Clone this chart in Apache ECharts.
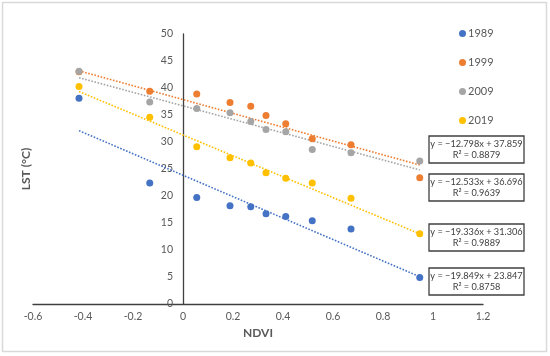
<!DOCTYPE html>
<html>
<head>
<meta charset="utf-8">
<script src="https://cdn.jsdelivr.net/npm/echarts@6/dist/echarts.min.js"></script>
<style>
html,body{margin:0;padding:0;background:#fff;}
#chart{width:550px;height:356px;}
</style>
</head>
<body>
<div id="chart"></div>
<script>
// ---- data ----
const ndvi = [-0.416, -0.133, 0.055, 0.188, 0.271, 0.332, 0.411, 0.517, 0.672, 0.947];
const years = ['1989', '1999', '2009', '2019'];
const lst1989 = [38.1, 22.4, 19.7, 18.2, 18.0, 16.7, 16.2, 15.4, 13.9, 4.9];
const lst1999 = [43.0, 39.4, 38.9, 37.3, 36.6, 34.9, 33.4, 30.6, 29.5, 23.4];
const lst2009 = [43.1, 37.4, 36.2, 35.4, 33.8, 32.3, 31.9, 28.6, 28.0, 26.5];
const lst2019 = [40.3, 34.6, 29.1, 27.1, 26.1, 24.3, 23.3, 22.4, 19.6, 13.0];
// trendline equations shown on the chart (slope, intercept, R²)
const slopes     = [-19.849, -12.798, -12.533, -19.336];
const intercepts = [23.847, 37.859, 36.696, 31.306];
const r2         = ['0.8758', '0.8879', '0.9639', '0.9889'];
const eqLabels = [
  'y = \u221219.849x + 23.847',
  'y = \u221212.798x + 37.859',
  'y = \u221212.533x + 36.696',
  'y = \u221219.336x + 31.306'
];
const xTicks = [-0.6, 1.2, 0.2];
const yTicks = [0, 50, 5];

const colors = ['#4472C4', '#ED7D31', '#A5A5A5', '#FFC000'];
const allLst = [lst1989, lst1999, lst2009, lst2019];
const FONT = 'Lato, "Open Sans", sans-serif';

const chart = echarts.init(document.getElementById('chart'), null, {renderer: 'canvas'});

const series = [];
years.forEach((y, i) => {
  series.push({
    name: y, type: 'scatter', symbolSize: 7,
    itemStyle: {color: colors[i], opacity: 1},
    data: ndvi.map((x, k) => [x, allLst[i][k]]),
    z: 3
  });
});
const xmin = Math.min(...ndvi), xmax = Math.max(...ndvi);
years.forEach((y, i) => {
  series.push({
    name: y + ' trend', type: 'line', symbol: 'none', silent: true,
    lineStyle: {color: colors[i], width: 1.6, type: [1.6, 1.6]},
    data: [[xmin, slopes[i]*xmin + intercepts[i]], [xmax, slopes[i]*xmax + intercepts[i]]],
    z: 2
  });
});

// equation boxes (top to bottom: 1999, 2009, 2019, 1989)
const boxOrder = [1, 2, 3, 0];
const boxTops = [136, 174, 224, 268];
const graphics = [{
  type: 'rect', shape: {x: 2.5, y: 2.5, width: 544, height: 349},
  style: {fill: 'none', stroke: '#d9d9d9', lineWidth: 1.5}, silent: true
}];
boxOrder.forEach((si, j) => {
  const top = boxTops[j];
  graphics.push({
    type: 'rect', shape: {x: 429, y: top, width: 95, height: 27},
    style: {fill: '#fff', stroke: '#404040', lineWidth: 1.3}, z: 10
  });
  graphics.push({
    type: 'text', x: 476.5, y: top + 8.5, z: 11,
    style: {text: eqLabels[si], font: '9.2px ' + FONT, fill: '#404040', align: 'center', verticalAlign: 'middle'}
  });
  graphics.push({
    type: 'text', x: 476.5, y: top + 19.5, z: 11,
    style: {text: 'R\u00B2 = ' + r2[si], font: '9.2px ' + FONT, fill: '#404040', align: 'center', verticalAlign: 'middle'}
  });
});

chart.setOption({
  animation: false,
  backgroundColor: '#fff',
  textStyle: {fontFamily: FONT},
  grid: {left: 33, right: 67, top: 34, bottom: 52, containLabel: false, outerBoundsMode: 'none'},
  legend: {
    data: years.map(y => ({name: y, icon: 'circle'})),
    orient: 'vertical', left: 454, top: 23,
    itemWidth: 7, itemHeight: 7, itemGap: 18,
    textStyle: {color: '#595959', fontSize: 11, fontFamily: FONT, padding: [0, 0, 0, -3]}
  },
  xAxis: {
    type: 'value', min: xTicks[0], max: xTicks[1], interval: xTicks[2],
    name: 'NDVI', nameLocation: 'middle', nameGap: 22,
    nameTextStyle: {color: '#595959', fontSize: 12, fontWeight: 'bold', fontFamily: FONT},
    axisLine: {show: true, onZero: true, lineStyle: {color: '#404040', width: 1.3}},
    axisTick: {show: false},
    splitLine: {show: false},
    axisLabel: {color: '#595959', fontSize: 10.5, margin: 7, fontFamily: FONT,
      formatter: v => String(Math.round(v*10)/10)}
  },
  yAxis: {
    type: 'value', min: yTicks[0], max: yTicks[1], interval: yTicks[2],
    name: 'LST (\u00B0C)', nameLocation: 'middle', nameGap: 1, nameRotate: 90,
    nameTextStyle: {color: '#595959', fontSize: 12, fontWeight: 'bold', fontFamily: FONT},
    axisLine: {show: true, onZero: true, lineStyle: {color: '#404040', width: 1.3}},
    axisTick: {show: false},
    splitLine: {show: false},
    axisLabel: {color: '#595959', fontSize: 10.5, margin: -140, fontFamily: FONT}
  },
  graphic: graphics,
  series: series
});
</script>
</body>
</html>
